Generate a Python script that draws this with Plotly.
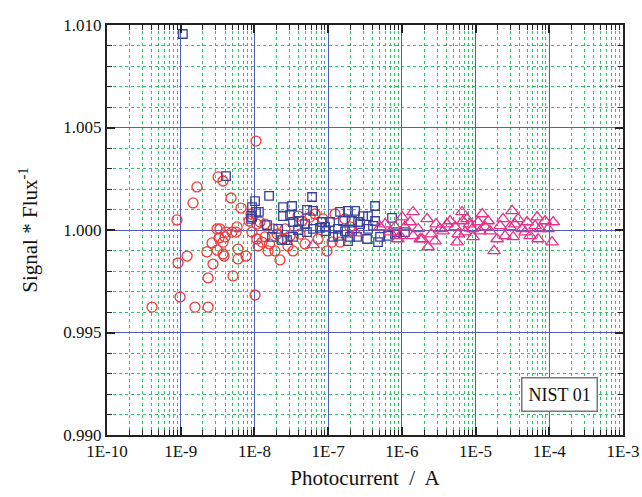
import plotly.graph_objects as go

# Red circles
circ_x = [1.05e-8, 3.21e-9, 3.75e-9, 1.66e-9, 1.47e-9, 4.82e-9, 8.9e-10, 6.58e-9, 8.99e-9, 8.45e-9,
          3.11e-9, 3.41e-9, 5.81e-9, 4.97e-9, 5.63e-9, 4.12e-9, 9.28e-9, 3.31e-9, 3.99e-9, 2.66e-9,
          3.75e-9, 3.11e-9, 5.99e-9, 2.27e-9, 3.75e-9, 3.87e-9, 1.22e-9, 9.2e-10, 2.74e-9, 5.99e-9,
          7.69e-9, 2.35e-9, 5.13e-9, 9.8e-10, 1.02e-8, 4.08e-10, 1.56e-9, 2.35e-9, 1.08e-8, 1.12e-8,
          1.27e-8, 1.39e-8, 1.19e-8, 1.79e-8, 2.03e-8, 2.60e-8, 2.44e-8, 3.91e-8, 4.43e-8, 4.16e-8,
          3.04e-8, 5.68e-8, 6.64e-8, 7.29e-8, 1.24e-7, 1.13e-7, 1.45e-7, 1.08e-8, 1.53e-8, 1.90e-8,
          2.22e-8, 3.34e-8, 9.66e-8, 1.60e-8, 2.85e-8, 1.39e-8, 4.86e-8, 1.69e-7, 1.98e-7, 8.53e-8]
circ_y = [1.00434, 1.00259, 1.00239, 1.00210, 1.00132, 1.00156, 1.00049, 1.00107, 1.00078, 1.00044,
          1.00005, 1.00005, 1.00015, 0.99990, 0.99990, 0.99990, 0.99990, 0.99961, 0.99966, 0.99937,
          0.99941, 0.99902, 0.99907, 0.99893, 0.99883, 0.99873, 0.99873, 0.99839, 0.99834, 0.99859,
          0.99873, 0.99766, 0.99776, 0.99673, 0.99683, 0.99624, 0.99624, 0.99624, 0.99956, 0.99922,
          0.99941, 1.00029, 1.00039, 1.00005, 0.99980, 1.00005, 0.99956, 1.00068, 1.00044, 0.99980,
          0.99971, 1.00063, 1.00078, 0.99956, 1.00078, 0.99941, 0.99941, 1.00029, 0.99898, 0.99898,
          0.99854, 0.99898, 0.99898, 0.99932, 0.99922, 0.99966, 0.99932, 1.00054, 1.00015, 1.00054]

# Blue squares
sq_x = [1.07e-9, 4.12e-9, 1.02e-8, 9.28e-9, 8.99e-9, 1.05e-8, 1.58e-8, 1.15e-8, 1.48e-8, 1.73e-8,
        2.44e-8, 3.24e-8, 6.05e-8, 5.17e-8, 6.24e-8, 2.44e-8, 3.04e-8, 4.03e-8, 3.34e-8, 4.86e-8,
        3.91e-8, 2.37e-8, 2.77e-8, 3.34e-8, 6.24e-8, 8.27e-8, 9.37e-8, 1.06e-7, 1.17e-7, 1.45e-7,
        1.59e-7, 1.86e-7, 2.32e-7, 2.11e-7, 2.55e-7, 7.76e-8, 1.36e-7, 1.69e-7, 5.17e-8, 1.36e-7,
        1.98e-7, 1.86e-7, 2.47e-7, 4.33e-7, 2.98e-7, 3.48e-7, 4.33e-7, 2.71e-7, 3.48e-7, 4.06e-7,
        7.36e-7, 2.11e-7, 3.37e-7, 5.06e-7, 6.50e-7, 4.75e-7, 1.10e-6, 8.61e-7, 9.28e-9, 9.08e-8,
        8.09e-7, 2.10e-8]
sq_y = [1.00956, 1.00263, 1.00141, 1.00112, 1.00054, 1.00088, 1.00166, 1.00088, 1.00024, 0.99966,
        1.00112, 1.00117, 1.00161, 1.00098, 1.00093, 1.00068, 1.00073, 1.00044, 1.00039, 1.00029,
        1.00000, 0.99951, 0.99951, 0.99966, 1.00005, 1.00039, 0.99995, 1.00039, 0.99966, 1.00088,
        1.00044, 1.00093, 1.00093, 1.00044, 1.00039, 1.00010, 1.00005, 0.99995, 0.99990, 0.99971,
        0.99966, 0.99946, 0.99966, 1.00117, 1.00068, 1.00068, 1.00044, 1.00029, 1.00005, 1.00020,
        1.00059, 0.99995, 0.99956, 0.99966, 0.99971, 0.99941, 0.99990, 0.99990, 1.00063, 1.00015,
        0.99980, 1.00005]

# Magenta triangles
tri_x = [6.24e-8, 2.39e-7, 5.06e-7, 5.92e-7, 6.92e-7, 9.46e-7, 1.01e-6, 1.42e-6, 1.29e-6, 1.66e-6,
         1.42e-6, 1.77e-6, 2.20e-6, 2.27e-6, 2.82e-6, 2.91e-6, 3.30e-6, 4.10e-6, 5.27e-6, 5.61e-6,
         6.56e-6, 6.76e-6, 7.67e-6, 8.97e-6, 9.25e-6, 1.08e-5, 1.15e-5, 1.23e-5, 1.48e-5, 1.57e-5,
         1.78e-5, 1.96e-5, 2.36e-5, 2.51e-5, 3.13e-5, 2.94e-5, 3.23e-5, 3.77e-5, 4.28e-5, 5.00e-5,
         5.49e-5, 6.83e-5, 6.42e-5, 7.05e-5, 8.77e-5, 9.64e-5, 1.09e-4, 1.13e-4, 7.21e-6, 3.62e-6,
         1.88e-6, 4.51e-6, 8.09e-7, 1.10e-6, 8.80e-7, 1.35e-5, 2.15e-5, 3.40e-5, 7.50e-5, 4.70e-5,
         8.30e-6, 2.50e-6, 5.80e-6]
tri_y = [0.99927, 0.99985, 1.00015, 1.00029, 0.99990, 0.99971, 1.00063, 1.00088, 1.00039, 1.00005,
         0.99971, 0.99956, 1.00054, 0.99917, 0.99946, 1.00029, 1.00005, 1.00029, 1.00015, 0.99941,
         1.00088, 1.00044, 1.00054, 1.00005, 0.99966, 1.00039, 0.99995, 1.00078, 1.00044, 0.99995,
         0.99898, 0.99956, 1.00054, 0.99971, 1.00093, 1.00015, 0.99966, 1.00054, 1.00005, 1.00039,
         0.99971, 1.00063, 1.00020, 0.99956, 1.00044, 1.00005, 0.99941, 1.00039, 0.99990, 0.99995,
         0.99956, 1.00044, 1.00015, 1.00015, 0.99956, 1.00015, 1.00020, 1.00029, 1.00005, 0.99990,
         1.00029, 0.99980, 0.99980]

x_tickvals = [1e-10, 1e-9, 1e-8, 1e-7, 1e-6, 1e-5, 1e-4, 1e-3]
x_ticktext = ["1E-10", "1E-9", "1E-8", "1E-7", "1E-6", "1E-5", "1E-4", "1E-3"]
y_tickvals = [0.990, 0.995, 1.000, 1.005, 1.010]
y_ticktext = ["0.990", "0.995", "1.000", "1.005", "1.010"]

FONT = "Liberation Serif, Times New Roman, serif"
GREEN = "#2cc468"
BLUE_GRID = "#5060b8"

fig = go.Figure()
fig.add_trace(go.Scatter(x=circ_x, y=circ_y, mode="markers", name="circles",
                         marker=dict(symbol="circle-open", size=10, color="#f03a3a",
                                     line=dict(width=1.3, color="#f03a3a"))))
fig.add_trace(go.Scatter(x=sq_x, y=sq_y, mode="markers", name="squares",
                         marker=dict(symbol="square-open", size=8.5, color="#38409a",
                                     line=dict(width=1.3, color="#38409a"))))
fig.add_trace(go.Scatter(x=tri_x, y=tri_y, mode="markers", name="triangles",
                         marker=dict(symbol="triangle-up-open", size=11, color="#e8308a",
                                     line=dict(width=1.3, color="#e8308a"))))

axis_common = dict(
    showline=True, linecolor="#222", linewidth=2, mirror="allticks",
    ticks="inside", ticklen=8, tickwidth=1.5, tickcolor="#222",
    showgrid=True, gridcolor=BLUE_GRID, gridwidth=1, zeroline=False, automargin=False,
    tickfont=dict(family=FONT, size=17, color="#111"),
)

fig.update_xaxes(type="log", range=[-10, -3], tickvals=x_tickvals, ticktext=x_ticktext,
                 title=dict(text="Photocurrent  /  A", font=dict(family=FONT, size=21, color="#111"), standoff=10),
                 minor=dict(dtick="D1", showgrid=True, gridcolor=GREEN, griddash="dot", gridwidth=1,
                            ticks="inside", ticklen=5, tickcolor="#222", tickwidth=1.2),
                 **axis_common)
fig.update_yaxes(range=[0.990, 1.010], tickvals=y_tickvals, ticktext=y_ticktext,
                 title=dict(text="Signal * Flux<sup>-1</sup>", font=dict(family=FONT, size=21, color="#111"), standoff=20),
                 minor=dict(dtick=0.001, showgrid=True, gridcolor=GREEN, griddash="dot", gridwidth=1,
                            ticks="inside", ticklen=5, tickcolor="#222", tickwidth=1.2),
                 **axis_common)

fig.add_annotation(xref="paper", yref="paper", x=0.876, y=0.1, xanchor="center", yanchor="middle",
                   text="NIST 01", showarrow=False,
                   font=dict(family=FONT, size=18, color="#111"), bgcolor="white",
                   bordercolor="#777", borderwidth=1.5, borderpad=6)

fig.update_layout(width=642, height=497, margin=dict(l=107, r=19, t=25, b=62),
                  plot_bgcolor="white", paper_bgcolor="white", showlegend=False)

fig.write_html("out.html", config={"displayModeBar": False},
               post_script="document.body.style.margin='0px';document.body.style.overflow='hidden';")
